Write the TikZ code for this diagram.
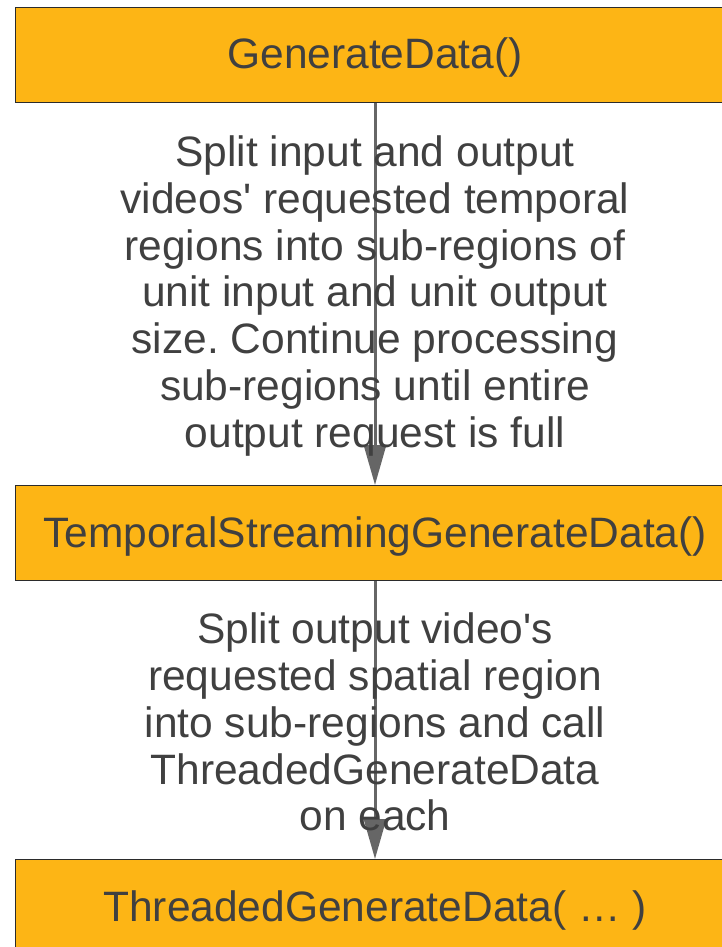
\documentclass[tikz,border=0pt]{standalone}
\usepackage{fontspec}
\setmainfont{Liberation Sans}
\usepackage{tikz}
\usetikzlibrary{positioning,arrows.meta}
\usepackage{xcolor}
\definecolor{flowGold}{HTML}{FDB515}
\definecolor{flowText}{HTML}{404040}
\definecolor{flowLine}{HTML}{666666}
\definecolor{flowEdge}{HTML}{2B2B2B}
\frenchspacing

\begin{document}
\begin{tikzpicture}[
          x=1pt, y=1pt,
          font=\fontsize{42.5}{46.8}\selectfont, text=flowText,
          call/.style={draw=flowEdge,line width=1pt,fill=flowGold,
                       minimum width=720pt,minimum height=95pt,inner sep=0pt,
                       text height=33pt,text depth=5pt},
          flow/.style={-{Triangle[length=40pt,width=22pt]},line width=3pt,flowLine},
          note/.style={align=center,inner sep=0pt,text=flowText,yshift=-2pt}]
        \useasboundingbox (0,0) rectangle (722,-947);
        \node[call] (gen) at (375,-55) {GenerateData()};
        \node[call,below=382pt of gen] (tsgen) {TemporalStreamingGenerateData()};
        \node[call,below=278pt of tsgen] (thgen) {ThreadedGenerateData( \dots{} )};
        \draw[flow] (gen) -- node[note]{Split input and output\\videos\textquotesingle{} requested temporal\\regions into sub-regions of\\unit input and unit output\\size. Continue processing\\sub-regions until entire\\output request is full} (tsgen);
        \draw[flow] (tsgen) -- node[note]{Split output video\textquotesingle{}s\\requested spatial region\\into sub-regions and call\\ThreadedGenerateData\\on each} (thgen);
      \end{tikzpicture}
\end{document}
